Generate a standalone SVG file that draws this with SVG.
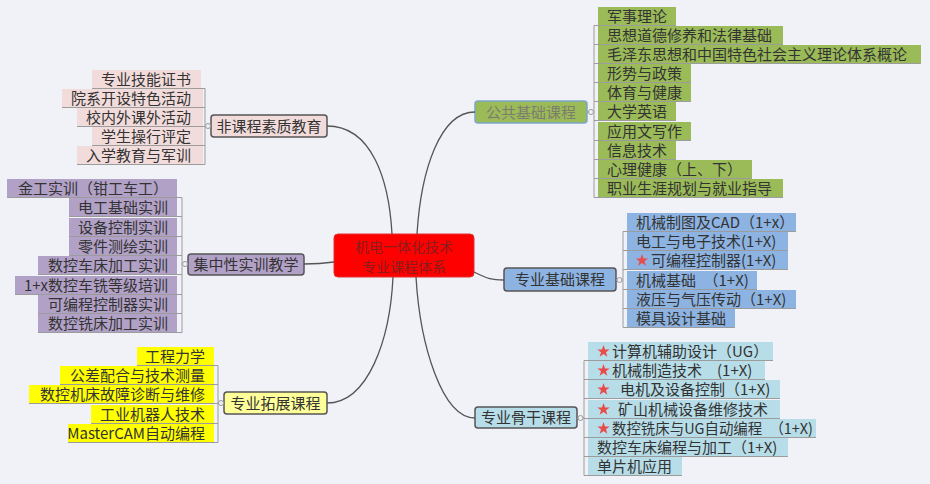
<svg xmlns="http://www.w3.org/2000/svg" xmlns:xlink="http://www.w3.org/1999/xlink" width="930" height="484" viewBox="0 0 930 484">
<style>
.t{font-family:"Noto Sans CJK SC","Noto Sans",sans-serif;font-size:15px;fill:#333}
.te{text-anchor:end}
.tm{text-anchor:middle}
.p{fill:#f2dcdb}.u{fill:#b2a1c7}.y{fill:#ffff00}.g{fill:#9bbb59}.b{fill:#8db3e2}.c{fill:#b7dde8}
.nd{stroke:#555;stroke-width:1.5}
.ln{fill:none;stroke:#9c9c9c;stroke-width:1}
.cn{fill:none;stroke:#555;stroke-width:1.3}
.dot{fill:#f1f2f7;stroke:#999;stroke-width:1}
.star{fill:#e94b4b}
</style>
<defs>
<polygon id="star" points="0,-6.5 1.53,-2.1 6.18,-2.01 2.47,0.8 3.82,5.26 0,2.6 -3.82,5.26 -2.47,0.8 -6.18,-2.01 -1.53,-2.1"/>
</defs>
<rect width="930" height="484" fill="#f1f2f7"/>

<g id="center">
<rect x="334" y="234" width="140" height="43" rx="4" fill="#ff0000" stroke="#e03030" stroke-width="1"/>
<text class="t tm" x="404" y="252" style="fill:#8b1c1c;font-size:14px">机电一体化技术</text>
<text class="t tm" x="404" y="271.5" style="fill:#8b1c1c;font-size:14px">专业课程体系</text>
</g>

<g id="n-fkc">
<rect class="p nd" x="211" y="115" width="116" height="22" rx="3"/>
<text class="t tm" x="269" y="131.5">非课程素质教育</text>
</g>
<g id="n-jzx">
<rect class="u nd" x="188" y="254" width="116" height="21" rx="3"/>
<text class="t tm" x="246" y="270">集中性实训教学</text>
</g>
<g id="n-tz">
<rect class="nd" style="fill:#ffff99" x="224" y="392" width="103" height="22" rx="3"/>
<text class="t tm" x="275.5" y="408.5">专业拓展课程</text>
</g>
<g id="n-gg">
<rect class="g" x="475" y="101" width="112" height="22" rx="3" stroke="#7ea6c8" stroke-width="1.5"/>
<text class="t tm" x="531" y="117.5" style="fill:#7d7d6d">公共基础课程</text>
</g>
<g id="n-zj">
<rect class="b nd" x="504" y="268" width="112" height="23" rx="3"/>
<text class="t tm" x="560" y="285">专业基础课程</text>
</g>
<g id="n-gu">
<rect class="c nd" x="475" y="407" width="102" height="21" rx="3"/>
<text class="t tm" x="526" y="423">专业骨干课程</text>
</g>

<!-- pink leaves -->
<g id="p1"><rect class="p" x="92" y="70" width="109" height="18"/><text class="t te" x="191" y="84.5">专业技能证书</text></g>
<g id="p2"><rect class="p" x="62" y="89" width="141" height="18"/><text class="t te" x="191" y="103.5">院系开设特色活动</text></g>
<g id="p3"><rect class="p" x="77" y="108" width="126" height="18"/><text class="t te" x="191" y="122.5">校内外课外活动</text></g>
<g id="p4"><rect class="p" x="92" y="127" width="111" height="18"/><text class="t te" x="191" y="141.5">学生操行评定</text></g>
<g id="p5"><rect class="p" x="77" y="146" width="126" height="18"/><text class="t te" x="191" y="160.5">入学教育与军训</text></g>

<!-- purple leaves -->
<g id="u1"><rect class="u" x="7" y="179" width="170" height="18"/><text class="t te" x="168" y="193.5">金工实训（钳工车工）</text></g>
<g id="u2"><rect class="u" x="69" y="198" width="108" height="18"/><text class="t te" x="168" y="212.5">电工基础实训</text></g>
<g id="u3"><rect class="u" x="69" y="218" width="108" height="18"/><text class="t te" x="168" y="232.5">设备控制实训</text></g>
<g id="u4"><rect class="u" x="69" y="237" width="108" height="18"/><text class="t te" x="168" y="251.5">零件测绘实训</text></g>
<g id="u5"><rect class="u" x="38" y="256" width="139" height="18"/><text class="t te" x="168" y="270.5">数控车床加工实训</text></g>
<g id="u6"><rect class="u" x="15" y="276" width="162" height="18"/><text class="t te" x="168" y="290.5">1+x数控车铣等级培训</text></g>
<g id="u7"><rect class="u" x="38" y="295" width="139" height="18"/><text class="t te" x="168" y="309.5">可编程控制器实训</text></g>
<g id="u8"><rect class="u" x="38" y="314" width="139" height="18"/><text class="t te" x="168" y="328.5">数控铣床加工实训</text></g>

<!-- yellow leaves -->
<g id="y1"><rect class="y" x="137" y="347" width="77" height="18"/><text class="t te" x="205" y="361.5">工程力学</text></g>
<g id="y2"><rect class="y" x="60" y="366" width="154" height="18"/><text class="t te" x="205" y="380.5">公差配合与技术测量</text></g>
<g id="y3"><rect class="y" x="29" y="385" width="185" height="18"/><text class="t te" x="205" y="399.5">数控机床故障诊断与维修</text></g>
<g id="y4"><rect class="y" x="91" y="405" width="123" height="18"/><text class="t te" x="205" y="419.5">工业机器人技术</text></g>
<g id="y5"><rect class="y" x="68" y="424" width="146" height="18"/><text class="t te" x="205" y="438.5">MasterCAM自动编程</text></g>

<!-- green leaves -->
<g id="g1"><rect class="g" x="598" y="7" width="78" height="18"/><text class="t" x="607" y="21.5">军事理论</text></g>
<g id="g2"><rect class="g" x="598" y="26" width="185" height="18"/><text class="t" x="607" y="40.5">思想道德修养和法律基础</text></g>
<g id="g3"><rect class="g" x="598" y="45" width="323" height="18"/><text class="t" x="607" y="59.5">毛泽东思想和中国特色社会主义理论体系概论</text></g>
<g id="g4"><rect class="g" x="598" y="64" width="93" height="18"/><text class="t" x="607" y="78.5">形势与政策</text></g>
<g id="g5"><rect class="g" x="598" y="83" width="93" height="18"/><text class="t" x="607" y="97.5">体育与健康</text></g>
<g id="g6"><rect class="g" x="598" y="102" width="78" height="18"/><text class="t" x="607" y="116.5">大学英语</text></g>
<g id="g7"><rect class="g" x="598" y="122" width="93" height="18"/><text class="t" x="607" y="136.5">应用文写作</text></g>
<g id="g8"><rect class="g" x="598" y="141" width="78" height="18"/><text class="t" x="607" y="155.5">信息技术</text></g>
<g id="g9"><rect class="g" x="598" y="160" width="154" height="18"/><text class="t" x="607" y="174.5">心理健康（上、下）</text></g>
<g id="g10"><rect class="g" x="598" y="179" width="185" height="18"/><text class="t" x="607" y="193.5">职业生涯规划与就业指导</text></g>

<!-- blue leaves -->
<g id="b1"><rect class="b" x="627" y="213" width="169" height="18"/><text class="t" x="636" y="227.5">机械制图及CAD（1+x）</text></g>
<g id="b2"><rect class="b" x="627" y="232" width="161" height="18"/><text class="t" x="636" y="246.5">电工与电子技术(1+X)</text></g>
<g id="b3"><rect class="b" x="627" y="251" width="161" height="18"/><use xlink:href="#star" class="star" x="642" y="260.5"/><text class="t" x="651" y="265.5">可编程控制器(1+X)</text></g>
<g id="b4"><rect class="b" x="627" y="271" width="130" height="18"/><text class="t" x="636" y="285.5">机械基础　（1+X)</text></g>
<g id="b5"><rect class="b" x="627" y="290" width="169" height="18"/><text class="t" x="636" y="304.5">液压与气压传动（1+X)</text></g>
<g id="b6"><rect class="b" x="627" y="309" width="108" height="18"/><text class="t" x="636" y="323.5">模具设计基础</text></g>

<!-- cyan leaves -->
<g id="c1"><rect class="c" x="588" y="342" width="185" height="18"/><use xlink:href="#star" class="star" x="603.5" y="351.5"/><text class="t" x="612" y="356.5">计算机辅助设计（UG）</text></g>
<g id="c2"><rect class="c" x="588" y="361" width="177" height="18"/><use xlink:href="#star" class="star" x="603.5" y="370.5"/><text class="t" x="612" y="375.5">机械制造技术　(1+X)</text></g>
<g id="c3"><rect class="c" x="588" y="380" width="192" height="18"/><use xlink:href="#star" class="star" x="603.5" y="389.5"/><text class="t" x="620" y="394.5">电机及设备控制（1+X)</text></g>
<g id="c4"><rect class="c" x="588" y="400" width="192" height="18"/><use xlink:href="#star" class="star" x="603.5" y="409.5"/><text class="t" x="618" y="414.5">矿山机械设备维修技术</text></g>
<g id="c5"><rect class="c" x="588" y="419" width="228" height="18"/><use xlink:href="#star" class="star" x="603.5" y="428.5"/><text class="t" x="612" y="433.5" textLength="201" lengthAdjust="spacingAndGlyphs">数控铣床与UG自动编程　（1+X)</text></g>
<g id="c6"><rect class="c" x="588" y="438" width="200" height="18"/><text class="t" x="597" y="452.5">数控车床编程与加工（1+X)</text></g>
<g id="c7"><rect class="c" x="588" y="457" width="94" height="18"/><text class="t" x="597" y="471.5">单片机应用</text></g>

<g id="connectors">
<path class="cn" d="M327,126 C372,126 389,180 392,234"/>
<path class="cn" d="M417,234 C421,170 440,112 475,112"/>
<path class="cn" d="M393,277 C390,340 368,403 327,403"/>
<path class="cn" d="M416,277 C420,345 442,418 475,418"/>
<path class="cn" d="M474,272 C488,279 492,280 504,280"/>
<path class="cn" d="M334,262 C320,264 316,264 304,264"/>
<!-- pink bracket -->
<path class="ln" d="M92,88.5H205M62,107.5H205M77,126.5H205M92,145.5H205M77,164.5H205M205,88.5V164.5M205,126H211"/>
<circle class="dot" cx="208" cy="126" r="2.5"/>
<!-- purple bracket -->
<path class="ln" d="M7,197.5H182M69,216.5H182M69,236.5H182M69,255.5H182M38,274.5H182M15,294.5H182M38,313.5H182M38,332.5H182M182,197.5V332.5M182,264H188"/>
<circle class="dot" cx="185" cy="264" r="2.5"/>
<!-- yellow bracket -->
<path class="ln" d="M137,365.5H218M60,384.5H218M29,403.5H218M91,423.5H218M68,442.5H218M218,365.5V442.5M218,403H224"/>
<circle class="dot" cx="221" cy="403" r="2.5"/>
<!-- green bracket -->
<path class="ln" d="M594,25.5H676M594,44.5H783M594,63.5H921M594,82.5H691M594,101.5H691M594,120.5H676M594,140.5H691M594,159.5H676M594,178.5H752M594,197.5H783M594,25.5V197.5M587,112H594"/>
<circle class="dot" cx="591" cy="112" r="2.5"/>
<!-- blue bracket -->
<path class="ln" d="M623,231.5H796M623,250.5H788M623,269.5H788M623,289.5H757M623,308.5H796M623,327.5H735M623,231.5V327.5M616,280H623"/>
<circle class="dot" cx="619.5" cy="280" r="2.5"/>
<!-- cyan bracket -->
<path class="ln" d="M584,360.5H773M584,379.5H765M584,398.5H780M584,418.5H780M584,437.5H816M584,456.5H788M584,475.5H682M584,360.5V475.5M577,418H584"/>
<circle class="dot" cx="580.5" cy="418" r="2.5"/>
</g>
</svg>
